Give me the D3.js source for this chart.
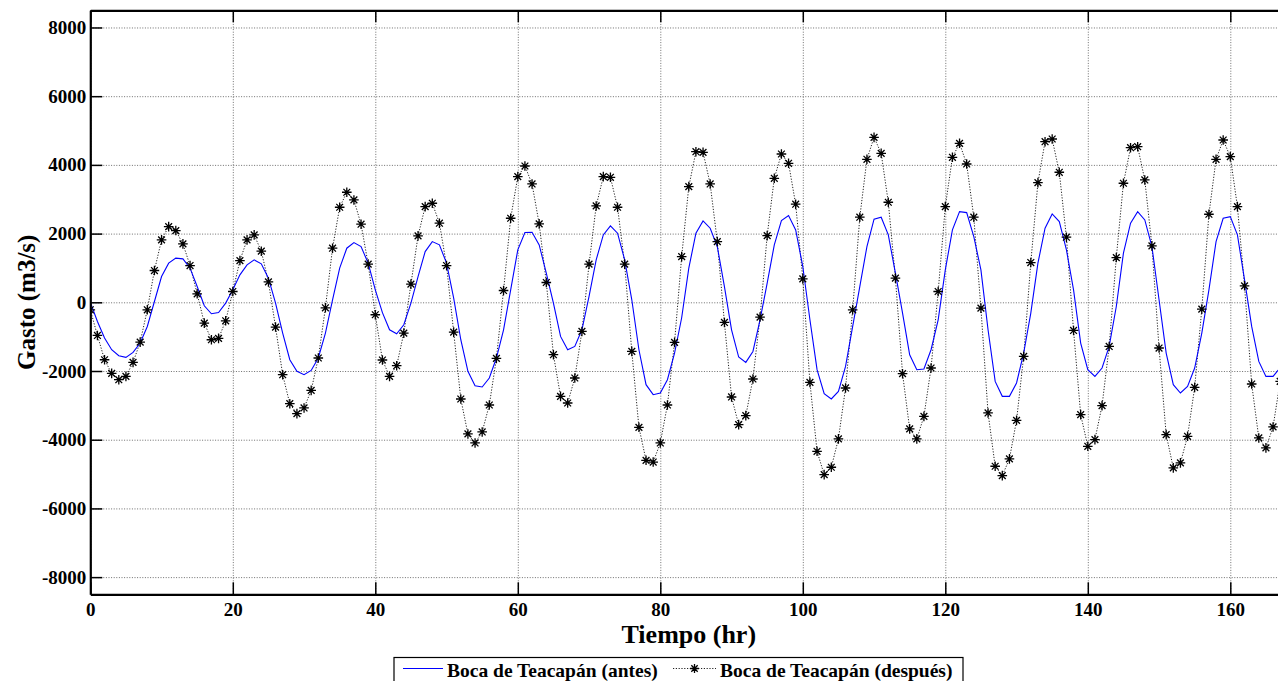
<!DOCTYPE html>
<html>
<head>
<meta charset="utf-8">
<script src="https://cdn.jsdelivr.net/npm/d3@7"></script>
<style>
html,body{margin:0;padding:0;background:#fff;}
svg{display:block;}
text{font-family:"Liberation Serif","Times New Roman",serif !important;font-weight:bold;fill:#000;}
</style>
</head>
<body>
<svg id="chart" width="1278" height="681"></svg>
<script>
// ---- data (hourly) ----
const hours = d3.range(0, 168);
const antes = [0,-557,-1041,-1381,-1555,-1604,-1459,-1186,-703,23,750,1139,1285,1264,994,459,-102,-334,-296,-23,
363,800,1090,1235,1119,703,-23,-897,-1672,-2010,-2108,-1983,-1622,-897,73,994,1575,1739,1622,1139,
363,-300,-800,-916,-654,-23,750,1477,1767,1672,1139,122,-1090,-2010,-2427,-2466,-2204,-1622,-800,363,
1526,2030,2040,1672,848,-23,-993,-1381,-1285,-800,170,1235,1962,2224,2012,1235,73,-1381,-2398,-2689,
-2640,-2253,-1477,-450,994,2012,2369,2157,1622,459,-800,-1593,-1750,-1430,-509,557,1672,2378,2523,2108,
1041,-509,-1962,-2660,-2814,-2593,-1866,-703,459,1622,2419,2477,1962,848,-314,-1526,-1962,-1943,-1381,-509,
945,2108,2640,2611,1913,945,-800,-2302,-2738,-2738,-2349,-1477,-314,1139,2157,2573,2349,1526,363,-1186,
-1962,-2156,-1913,-1285,-122,1430,2302,2640,2398,1622,73,-1477,-2398,-2640,-2448,-1913,-897,363,1767,2447,
2494,1962,654,-703,-1721,-2156,-2156,-1900];
const despues = [-218,-965,-1672,-2069,-2253,-2156,-1750,-1158,-218,925,1817,2204,2088,1701,1070,247,-606,-1090,-1051,-538,
314,1215,1817,1962,1488,596,-721,-2108,-2951,-3241,-3076,-2564,-1622,-160,1575,2767,3203,2980,2273,1110,
-363,-1680,-2156,-1846,-897,528,1933,2786,2883,2302,1070,-867,-2815,-3832,-4094,-3774,-2990,-1634,343,2447,
3657,3968,3445,2282,576,-1526,-2738,-2931,-2204,-848,1110,2805,3657,3639,2767,1110,-1430,-3639,-4600,-4650,
-4094,-2990,-1168,1331,3366,4384,4366,3445,1767,-587,-2756,-3561,-3299,-2233,-430,1942,3610,4317,4046,2855,
683,-2331,-4337,-5015,-4802,-3977,-2494,-218,2477,4163,4802,4337,2913,703,-2078,-3686,-3977,-3320,-1913,314,
2786,4221,4628,4026,2477,-169,-3221,-4773,-5044,-4558,-3436,-1575,1157,3483,4675,4753,3785,1895,-820,-3270,
-4192,-3997,-3009,-1285,1302,3465,4500,4529,3561,1642,-1331,-3852,-4820,-4675,-3900,-2476,-198,2563,4163,4724,
4240,2786,480,-2378,-3948,-4238,-3628,-2300];
const xTicks = [0,20,40,60,80,100,120,140,160];
const yTicks = [-8000,-6000,-4000,-2000,0,2000,4000,6000,8000];
const seriesNames = ["Boca de Teacapán (antes)", "Boca de Teacapán (después)"];
const xLabel = "Tiempo (hr)";
const yLabel = "Gasto (m3/s)";

// ---- layout ----
const svg = d3.select("#chart");
const L = 90.3, T = 10.3, B = 594.3;
const R = L + 7.125 * 168;
const x = d3.scaleLinear().domain([0, 168]).range([L, R]);
const y = d3.scaleLinear().domain([-8500, 8500]).range([B, T]);
const W = R - L, H = B - T;
const FONT = "'Liberation Serif', 'Times New Roman', serif";
const plain = d => String(d);

svg.append("defs").append("clipPath").attr("id", "clip")
  .append("rect").attr("x", L).attr("y", T).attr("width", W).attr("height", H);

// grid
const gridX = svg.append("g").attr("transform", `translate(0,${B})`)
  .call(d3.axisBottom(x).tickValues(xTicks).tickSize(-H).tickFormat(""));
const gridY = svg.append("g").attr("transform", `translate(${L},0)`)
  .call(d3.axisLeft(y).tickValues(yTicks).tickSize(-W).tickFormat(""));
[gridX, gridY].forEach(g => {
  g.select(".domain").remove();
  g.selectAll("line").attr("stroke", "#6e6e6e").attr("stroke-width", 1).attr("stroke-dasharray", "1,1.6");
});

// data
const plot = svg.append("g").attr("clip-path", "url(#clip)");
const line = arr => d3.line().x((d, i) => x(hours[i])).y(d => y(d))(arr);
plot.append("path").attr("d", line(despues)).attr("fill", "none")
  .attr("stroke", "#222").attr("stroke-width", 1).attr("stroke-dasharray", "1.2,1.6");
plot.append("path").attr("d", line(antes)).attr("fill", "none")
  .attr("stroke", "#0000ff").attr("stroke-width", 1.1);

const star = (g, cx, cy, r) => {
  const d = r * 0.7071;
  g.append("path")
   .attr("d", `M${cx-r},${cy}L${cx+r},${cy}M${cx},${cy-r}L${cx},${cy+r}M${cx-d},${cy-d}L${cx+d},${cy+d}M${cx-d},${cy+d}L${cx+d},${cy-d}`)
   .attr("stroke", "#000").attr("stroke-width", 1.3).attr("fill", "none");
};
despues.forEach((v, i) => star(plot, x(hours[i]), y(v), 4.8));

// axes (ticks inward, all four sides)
const axL = svg.append("g").attr("transform", `translate(${L},0)`)
  .call(d3.axisLeft(y).tickValues(yTicks).tickFormat(plain).tickSizeInner(-12).tickSizeOuter(0).tickPadding(4));
const axB = svg.append("g").attr("transform", `translate(0,${B})`)
  .call(d3.axisBottom(x).tickValues(xTicks).tickFormat(plain).tickSizeInner(-12).tickSizeOuter(0).tickPadding(8));
const axT = svg.append("g").attr("transform", `translate(0,${T})`)
  .call(d3.axisTop(x).tickValues(xTicks).tickSizeInner(-12).tickSizeOuter(0).tickFormat(""));
[axL, axB, axT].forEach(g => {
  g.attr("font-family", null).attr("font-size", null);
  g.select(".domain").attr("stroke", "#000").attr("stroke-width", 2.2);
  g.selectAll(".tick line").attr("stroke", "#000").attr("stroke-width", 1.5);
  g.selectAll("text").style("font-family", FONT).style("font-weight", "bold")
    .style("font-size", "19px").attr("fill", "#000");
});
axB.selectAll("text").attr("dy", "0.71em");

// axis titles
svg.append("text").attr("x", x(84)).attr("y", 643).attr("text-anchor", "middle")
  .style("font-family", FONT).style("font-size", "26px").text(xLabel);
svg.append("text").attr("transform", `translate(35,${y(0)}) rotate(-90)`).attr("text-anchor", "middle")
  .style("font-family", FONT).style("font-size", "25px").text(yLabel);

// legend
const lg = svg.append("g");
lg.append("rect").attr("x", 394).attr("y", 657.5).attr("width", 569).attr("height", 40)
  .attr("fill", "#fff").attr("stroke", "#000").attr("stroke-width", 1.2);
lg.append("line").attr("x1", 403).attr("x2", 443).attr("y1", 668.5).attr("y2", 668.5)
  .attr("stroke", "#0000ff").attr("stroke-width", 1.2);
lg.append("text").attr("x", 447).attr("y", 677).style("font-family", FONT).style("font-size", "19.5px").text(seriesNames[0]);
lg.append("line").attr("x1", 673).attr("x2", 716).attr("y1", 668.5).attr("y2", 668.5)
  .attr("stroke", "#222").attr("stroke-width", 1).attr("stroke-dasharray", "1.2,1.6");
star(lg, 694.5, 668.5, 4.5);
lg.append("text").attr("x", 720).attr("y", 677).style("font-family", FONT).style("font-size", "19.5px").text(seriesNames[1]);
</script>
</body>
</html>
